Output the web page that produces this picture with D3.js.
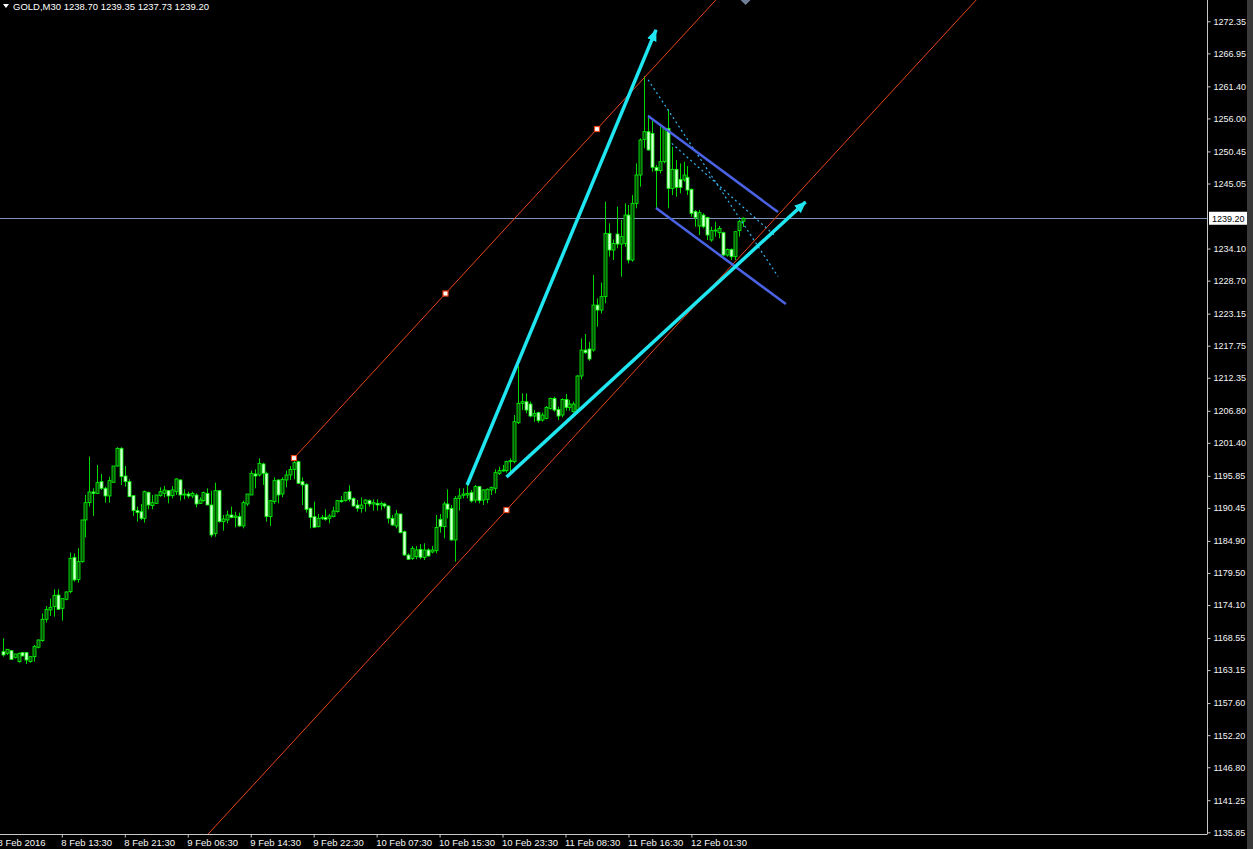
<!DOCTYPE html>
<html>
<head>
<meta charset="utf-8">
<script src="https://cdn.jsdelivr.net/npm/d3@7"></script>
<style>
body{margin:0;background:#000;overflow:hidden}
text{font-family:"Liberation Sans",Arial,sans-serif}
</style>
</head>
<body>
<svg id="chart"></svg>
<script>
const SVG_W = 1253, SVG_H = 849;
const PLOT_RIGHT = 1207, PLOT_BOTTOM = 834;

// GOLD M30 bars (oldest first)
const opens = [1166.25,1165.98,1166.42,1165.30,1164.57,1166.09,1166.09,1164.57,1165.41,1166.99,
1168.11,1171.70,1173.27,1173.83,1175.79,1173.55,1175.06,1176.35,1182.13,1178.40,
1181.40,1188.42,1191.33,1193.13,1192.90,1194.87,1193.75,1192.46,1194.76,1197.50,
1200.48,1195.82,1194.87,1192.51,1189.99,1189.82,1188.70,1193.07,1190.83,1191.22,
1192.51,1192.90,1193.35,1192.51,1193.18,1195.15,1192.62,1192.79,1192.46,1192.62,
1191.22,1191.67,1192.90,1190.94,1186.17,1193.35,1188.13,1188.42,1189.26,1188.86,
1188.98,1187.41,1191.11,1192.62,1196.16,1195.99,1197.84,1196.27,1188.98,1191.50,
1195.15,1192.79,1195.15,1195.99,1196.94,1198.23,1194.87,1194.42,1190.38,1188.98,
1187.29,1188.70,1188.86,1188.70,1188.98,1189.82,1191.67,1191.67,1193.18,1192.06,
1190.94,1190.38,1191.22,1191.67,1191.11,1191.22,1190.94,1191.11,1190.77,1188.70,
1187.41,1189.43,1186.45,1182.52,1181.96,1182.24,1183.48,1182.13,1183.37,1183.03,
1183.25,1188.53,1187.29,1191.11,1190.38,1185.05,1192.06,1192.57,1192.62,1193.02,
1191.78,1194.03,1191.78,1191.89,1193.47,1193.75,1196.27,1196.72,1196.72,1198.23,
1198.23,1204.79,1208.05,1208.33,1207.93,1205.91,1206.48,1205.24,1205.52,1207.20,
1208.89,1207.03,1206.08,1208.72,1207.37,1206.64,1206.92,1212.65,1217.02,1217.20,
1217.02,1224.59,1223.75,1226.00,1236.66,1233.85,1236.55,1234.86,1234.97,1239.74,
1232.17,1241.71,1246.48,1252.48,1253.77,1253.49,1247.77,1247.21,1248.72,1254.33,
1244.23,1247.43,1245.75,1245.64,1246.09,1244.07,1240.31,1237.89,1239.74,1239.35,
1235.54,1237.11,1236.77,1236.77,1233.01,1233.96,1232.73,1237.11,1238.70];
const highs = [1168.49,1166.65,1166.50,1165.90,1166.10,1166.20,1166.20,1165.53,1167.38,1168.30,
1172.71,1173.94,1175.18,1176.75,1176.75,1175.18,1176.40,1182.92,1182.80,1183.65,
1188.42,1192.62,1199.07,1193.75,1197.67,1196.16,1194.03,1195.71,1197.50,1200.65,
1200.65,1197.50,1195.26,1192.51,1190.66,1191.11,1193.35,1193.18,1192.62,1192.62,
1193.91,1194.14,1193.47,1194.14,1195.43,1195.26,1193.58,1193.18,1193.18,1192.90,
1192.23,1193.18,1193.75,1193.35,1194.70,1193.47,1189.26,1189.99,1190.66,1189.82,
1189.65,1191.67,1192.79,1196.72,1196.94,1198.79,1198.06,1196.55,1191.78,1195.60,
1195.26,1195.60,1196.72,1197.50,1198.79,1198.40,1195.60,1194.59,1190.55,1191.50,
1189.43,1189.26,1190.21,1189.43,1190.66,1191.78,1192.46,1193.18,1194.25,1192.23,
1191.78,1192.23,1191.89,1191.89,1191.89,1191.89,1191.50,1191.33,1190.94,1189.26,
1190.10,1189.43,1186.62,1182.80,1184.04,1184.04,1184.38,1184.49,1183.65,1184.04,
1189.26,1189.43,1191.50,1193.58,1190.94,1192.46,1193.75,1193.75,1194.59,1193.47,
1194.31,1194.14,1193.58,1193.75,1194.03,1196.94,1197.39,1197.67,1198.40,1198.79,
1206.08,1214.33,1209.73,1209.73,1208.33,1206.92,1206.64,1206.48,1207.60,1209.00,
1209.17,1207.48,1208.89,1209.62,1208.61,1208.33,1212.81,1218.99,1219.72,1218.40,
1229.65,1225.72,1228.36,1241.99,1238.34,1235.65,1241.15,1238.90,1241.71,1241.43,
1243.11,1248.44,1252.65,1263.14,1256.58,1255.74,1248.16,1254.61,1254.33,1257.53,
1251.25,1249.00,1248.44,1248.72,1247.99,1244.23,1240.59,1240.59,1240.03,1239.46,
1237.78,1238.62,1237.89,1236.94,1234.13,1234.13,1236.94,1238.90,1239.35];
const lows = [1165.41,1165.70,1164.85,1165.10,1164.40,1165.50,1164.18,1164.40,1164.57,1166.80,
1167.94,1171.14,1172.26,1172.15,1173.27,1171.47,1174.90,1176.07,1178.04,1177.87,
1181.23,1185.50,1190.66,1189.09,1192.79,1193.47,1191.33,1191.33,1194.76,1197.39,
1194.31,1194.03,1192.34,1189.09,1188.13,1188.42,1187.97,1190.21,1190.21,1191.11,
1192.34,1192.23,1191.22,1192.06,1192.62,1191.67,1191.89,1192.06,1192.06,1190.55,
1191.11,1191.50,1190.94,1185.50,1185.61,1187.97,1186.62,1187.85,1188.70,1187.18,
1187.29,1187.01,1190.77,1192.62,1193.75,1195.71,1194.31,1188.13,1187.41,1191.11,
1191.22,1192.23,1193.91,1195.15,1195.26,1194.47,1190.94,1189.65,1187.01,1187.18,
1187.18,1188.42,1188.30,1187.85,1188.86,1189.65,1191.33,1191.50,1191.50,1190.66,
1189.82,1189.65,1189.82,1190.66,1189.99,1189.99,1190.10,1190.38,1187.85,1187.41,
1187.01,1186.17,1182.36,1181.68,1181.68,1181.80,1181.80,1181.68,1182.24,1182.80,
1182.80,1186.28,1185.33,1188.70,1184.94,1181.40,1189.99,1192.06,1192.06,1191.33,
1191.33,1191.22,1190.94,1191.22,1192.62,1192.90,1195.99,1196.55,1196.38,1196.27,
1197.95,1204.57,1206.92,1206.36,1205.69,1204.96,1204.79,1204.96,1205.35,1207.00,
1206.64,1205.24,1205.69,1206.81,1206.81,1206.48,1206.64,1212.09,1216.35,1215.20,
1216.74,1220.95,1223.19,1224.88,1232.73,1232.17,1234.13,1229.37,1234.41,1231.61,
1231.89,1240.87,1244.51,1250.97,1250.60,1247.04,1240.87,1246.76,1248.44,1240.87,
1243.11,1242.83,1243.39,1245.36,1243.11,1239.46,1237.78,1236.38,1237.50,1235.54,
1235.26,1236.10,1235.82,1232.84,1232.73,1232.17,1232.17,1236.10,1237.73];
const closes = [1165.70,1166.65,1164.96,1165.86,1165.98,1165.53,1164.85,1165.41,1167.10,1168.22,
1171.70,1173.38,1173.72,1175.74,1173.38,1175.18,1176.30,1181.96,1178.32,1181.40,
1188.42,1191.33,1193.13,1192.90,1194.70,1193.75,1192.46,1195.04,1197.50,1200.48,
1195.71,1194.87,1192.34,1189.99,1189.65,1188.70,1193.18,1190.94,1191.33,1192.62,
1193.18,1193.47,1192.46,1193.47,1195.32,1192.62,1192.79,1192.46,1192.90,1191.11,
1191.78,1193.02,1190.94,1185.89,1193.35,1188.13,1188.58,1189.26,1188.86,1189.09,
1187.41,1191.33,1192.79,1196.27,1195.82,1197.95,1196.27,1188.98,1191.67,1195.04,
1192.62,1195.26,1195.99,1196.94,1198.06,1194.59,1194.31,1190.21,1188.86,1187.18,
1188.70,1188.86,1188.53,1189.09,1189.93,1191.67,1191.50,1193.02,1191.89,1190.77,
1190.38,1190.94,1191.78,1191.11,1191.33,1190.94,1191.22,1190.77,1188.70,1187.57,
1189.43,1186.28,1182.52,1181.80,1183.65,1183.37,1182.13,1183.37,1182.36,1183.37,
1187.18,1187.29,1191.11,1190.21,1185.05,1192.06,1192.46,1192.79,1192.90,1191.61,
1194.03,1191.67,1193.47,1193.58,1193.91,1196.38,1196.72,1196.83,1198.23,1198.40,
1204.96,1208.05,1208.33,1206.92,1205.91,1206.36,1205.13,1206.08,1207.37,1208.89,
1206.92,1205.91,1208.72,1207.37,1207.93,1207.93,1212.65,1217.02,1216.57,1215.50,
1224.59,1223.75,1226.00,1236.66,1233.85,1234.97,1234.86,1236.10,1239.74,1232.17,
1241.71,1246.48,1252.37,1253.77,1250.69,1247.77,1247.21,1248.72,1254.33,1244.23,
1247.43,1244.40,1244.40,1246.48,1243.95,1240.03,1239.35,1240.14,1237.78,1236.38,
1237.11,1237.22,1237.50,1233.01,1233.96,1232.73,1236.94,1238.62,1239.20];

// price scale labels (right) and time labels (bottom, by bar index)
const priceTicks = [1272.35,1266.95,1261.40,1256.00,1250.45,1245.05,1234.10,1228.70,1223.15,1217.75,
1212.35,1206.80,1201.40,1195.85,1190.45,1184.90,1179.50,1174.10,1168.55,1163.15,
1157.60,1152.20,1146.80,1141.25,1135.85];
const timeLabels = ["8 Feb 2016","8 Feb 13:30","8 Feb 21:30","9 Feb 06:30","9 Feb 14:30","9 Feb 22:30",
"10 Feb 07:30","10 Feb 15:30","10 Feb 23:30","11 Feb 08:30","11 Feb 16:30","12 Feb 01:30"];
const timeLabelBars = [-1.2,15,31,47,63,79,95,111,127,143,159,175];

const symbolTitle = "GOLD,M30";
const lastBar = [1238.70, 1239.35, 1237.73, 1239.20];
const bidPrice = 1239.20;

// drawn objects: [bar, price] anchors
const channelUpper = [[74, 1198.84], [151, 1254.22]];
const channelLowerAnchor = [128, 1190.09];
const channelMid = [112.5, 1226.53];
const cyanArrows = [
  [[118, 1194.30], [166, 1270.90]],
  [[128, 1195.65], [204, 1241.93]]
];
const blueLines = [
  [[164, 1256.41], [197, 1240.25]],
  [[166, 1240.92], [199, 1224.77]]
];
const dottedLines = [
  [[164, 1262.50], [197, 1229.40]],
  [[170, 1251.80], [196, 1236.40]]
];

const svg = d3.select("#chart").attr("width", SVG_W).attr("height", SVG_H)
  .style("background", "#000");

const x = d3.scaleLinear().domain([0, 188]).range([2.8, 2.8 + 188 * 3.935]);
const y = d3.scaleLinear().domain([1135.85, 1272.35]).range([832.3, 21.3]);

svg.append("defs").append("clipPath").attr("id", "plot-clip")
  .append("rect").attr("x", 0).attr("y", 0).attr("width", PLOT_RIGHT).attr("height", PLOT_BOTTOM);
svg.select("defs").append("marker")
  .attr("id", "cyan-head").attr("viewBox", "0 0 12 10").attr("refX", 11).attr("refY", 5)
  .attr("markerWidth", 12).attr("markerHeight", 10).attr("markerUnits", "userSpaceOnUse")
  .attr("orient", "auto")
  .append("path").attr("d", "M0,0 L12,5 L0,10 Z").attr("fill", "#1fe6f0");

const plot = svg.append("g").attr("clip-path", "url(#plot-clip)");

// bid line
plot.append("line").attr("x1", 0).attr("x2", PLOT_RIGHT)
  .attr("y1", Math.round(y(bidPrice)) + 0.5).attr("y2", Math.round(y(bidPrice)) + 0.5)
  .attr("stroke", "#7f93b8").attr("stroke-width", 1);

// candles
const bars = d3.range(opens.length).map(i => ({i, o: opens[i], h: highs[i], l: lows[i], c: closes[i]}));
const candle = plot.append("g").selectAll("g").data(bars).join("g");
candle.append("line")
  .attr("x1", d => Math.round(x(d.i)) + 0.5).attr("x2", d => Math.round(x(d.i)) + 0.5)
  .attr("y1", d => y(d.h)).attr("y2", d => y(d.l))
  .attr("stroke", "#00d800").attr("stroke-width", 1);
candle.append("rect")
  .attr("x", d => Math.round(x(d.i)) - 1)
  .attr("width", 3)
  .attr("y", d => y(Math.max(d.o, d.c)))
  .attr("height", d => Math.max(1, Math.abs(y(d.o) - y(d.c))))
  .attr("fill", d => d.c >= d.o ? "#0a4a0a" : "#d8ffd8")
  .attr("stroke", "#00ff00").attr("stroke-width", 0.8);

// equidistant channel (red)
const slope = (channelUpper[1][1] - channelUpper[0][1]) / (channelUpper[1][0] - channelUpper[0][0]);
const redColor = "#e8441a";
plot.append("line")
  .attr("x1", x(channelUpper[0][0])).attr("y1", y(channelUpper[0][1]))
  .attr("x2", x(400)).attr("y2", y(channelUpper[0][1] + slope * (400 - channelUpper[0][0])))
  .attr("stroke", redColor).attr("stroke-width", 1);
plot.append("line")
  .attr("x1", x(-100)).attr("y1", y(channelLowerAnchor[1] + slope * (-100 - channelLowerAnchor[0])))
  .attr("x2", x(400)).attr("y2", y(channelLowerAnchor[1] + slope * (400 - channelLowerAnchor[0])))
  .attr("stroke", redColor).attr("stroke-width", 1);
plot.selectAll(".ch-mark").data([channelUpper[0], channelMid, channelUpper[1], channelLowerAnchor]).join("rect")
  .attr("class", "ch-mark")
  .attr("x", d => x(d[0]) - 2.5).attr("y", d => y(d[1]) - 2.5)
  .attr("width", 5).attr("height", 5)
  .attr("fill", "#fff").attr("stroke", redColor).attr("stroke-width", 1.2);

// dotted trend lines
plot.selectAll(".dotted").data(dottedLines).join("line").attr("class", "dotted")
  .attr("x1", d => x(d[0][0])).attr("y1", d => y(d[0][1]))
  .attr("x2", d => x(d[1][0])).attr("y2", d => y(d[1][1]))
  .attr("stroke", "#36b4f0").attr("stroke-width", 1.2).attr("stroke-dasharray", "2,3");

// blue flag lines
plot.selectAll(".flag").data(blueLines).join("line").attr("class", "flag")
  .attr("x1", d => x(d[0][0])).attr("y1", d => y(d[0][1]))
  .attr("x2", d => x(d[1][0])).attr("y2", d => y(d[1][1]))
  .attr("stroke", "#4a62e4").attr("stroke-width", 2.5);

// cyan arrows
plot.selectAll(".arrow").data(cyanArrows).join("line").attr("class", "arrow")
  .attr("x1", d => x(d[0][0])).attr("y1", d => y(d[0][1]))
  .attr("x2", d => x(d[1][0])).attr("y2", d => y(d[1][1]))
  .attr("stroke", "#1fe6f0").attr("stroke-width", 3.5)
  .attr("marker-end", "url(#cyan-head)");

// chart shift marker at top
const shiftX = x(188) + 3;
svg.append("path").attr("d", `M${shiftX - 5},0 L${shiftX + 5},0 L${shiftX},5 Z`).attr("fill", "#6e7f96");

// right price axis
const axisColor = "#c8c8c8";
svg.append("line").attr("x1", PLOT_RIGHT + 0.5).attr("x2", PLOT_RIGHT + 0.5).attr("y1", 0).attr("y2", PLOT_BOTTOM + 0.5)
  .attr("stroke", axisColor);
const yAxis = svg.append("g").attr("transform", `translate(${PLOT_RIGHT + 0.5},0)`)
  .call(d3.axisRight(y).tickValues(priceTicks).tickFormat(d3.format(".2f")).tickSize(3).tickPadding(3));
yAxis.select(".domain").remove();
yAxis.selectAll("line").attr("stroke", axisColor);
yAxis.selectAll("text").attr("fill", "#f4f4f4").style("font-size", "9px");

// bid price label
const bidY = y(bidPrice);
svg.append("rect").attr("x", PLOT_RIGHT + 2).attr("y", bidY - 6.5).attr("width", 38).attr("height", 13).attr("fill", "#fff");
svg.append("text").attr("x", PLOT_RIGHT + 5).attr("y", bidY + 3.5).text(d3.format(".2f")(bidPrice))
  .attr("fill", "#000").style("font-size", "9px");

// bottom time axis
svg.append("line").attr("x1", 0).attr("x2", PLOT_RIGHT).attr("y1", PLOT_BOTTOM + 0.5).attr("y2", PLOT_BOTTOM + 0.5)
  .attr("stroke", axisColor);
const xAxis = svg.append("g").attr("transform", `translate(0,${PLOT_BOTTOM + 0.5})`)
  .call(d3.axisBottom(x).tickValues(timeLabelBars).tickFormat((d, i) => timeLabels[i]).tickSize(3).tickPadding(2));
xAxis.select(".domain").remove();
xAxis.selectAll("line").attr("stroke", axisColor);
xAxis.selectAll("text").attr("fill", "#f4f4f4").style("font-size", "9.5px")
  .attr("text-anchor", "start").attr("dx", -1);

// right edge strip
svg.append("rect").attr("x", 1247).attr("y", 0).attr("width", 6).attr("height", SVG_H).attr("fill", "#3a3a3a");

// header
svg.append("path").attr("d", "M3,4 L9,4 L6,8 Z").attr("fill", "#fff");
svg.append("text").attr("x", 13).attr("y", 10).attr("fill", "#fff").style("font-size", "9.5px")
  .text(symbolTitle + "  " + lastBar.map(d3.format(".2f")).join(" "));
</script>
</body>
</html>
